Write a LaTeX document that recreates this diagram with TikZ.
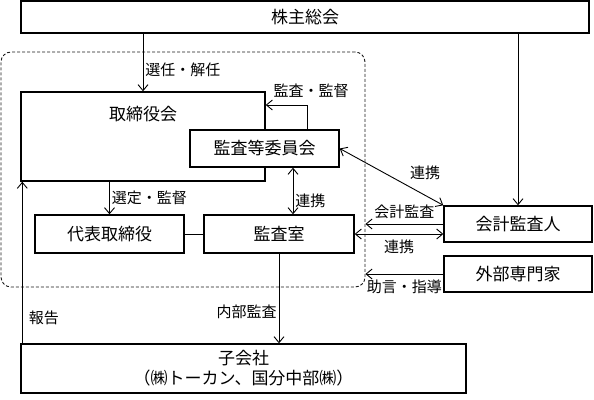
\documentclass[tikz,border=0pt]{standalone}
\usepackage{fontspec}
\newfontfamily\jpfont{Noto Sans CJK JP}
\usetikzlibrary{positioning, arrows.meta, calc}

\begin{document}
\begin{tikzpicture}[x=1pt, y=-1pt,
    orgbox/.style={draw, rectangle, line width=1.4pt, inner sep=0pt,
        font=\jpfont\fontsize{17}{20}\selectfont, align=center},
    conn/.style={line width=0.9pt, -{Straight Barb[length=6pt, width=10pt]}},
    twoway/.style={line width=0.9pt, {Straight Barb[length=6pt, width=10pt]}-{Straight Barb[length=6pt, width=10pt]}},
    lbl/.style={font=\jpfont\fontsize{15}{17}\selectfont, inner sep=2pt}]

    \useasboundingbox (0,0) rectangle (594,399);

    % Dashed group around the board
    \node[draw, dashed, dash pattern=on 3pt off 2pt, black!90, line width=0.9pt, rounded corners=10pt,
        minimum width=364pt, minimum height=235pt, inner sep=0pt] (boxGroup) at (183,169.5) {};

    % Boxes
    \node[orgbox, minimum width=568pt, minimum height=32pt] (boxAGM) at (305,17) {株主総会};
    \node[orgbox, minimum width=244pt, minimum height=89pt] (boxBoard) at (143,136.5) {};
    \node at ($(boxBoard.north)+(0,23)$) [lbl, font=\jpfont\fontsize{17}{20}\selectfont] {取締役会};
    \node[orgbox, fill=white, minimum width=149pt, minimum height=37pt] (boxAudit) at (264.5,148.5) {監査等委員会};
    \node[orgbox, minimum width=149pt, minimum height=38pt] (boxCEO) at (109.5,234) {代表取締役};
    \node[orgbox, minimum width=150pt, minimum height=38pt] (boxOffice) at (279,234) {監査室};
    \node[orgbox, minimum width=148pt, minimum height=36pt] (boxAcc) at (518,224) {会計監査人};
    \node[orgbox, minimum width=148pt, minimum height=36pt] (boxExpert) at (518,274) {外部専門家};
    \node[orgbox, minimum width=445pt, minimum height=49pt] (boxSub) at (243.5,368.5)
        {子会社\\（㈱トーカン、国分中部㈱）};

    % Helper points
    \coordinate (linkX) at ([xshift=14pt]boxOffice.north);
    \coordinate (reportX) at ([xshift=2pt]boxSub.north west);

    % Connectors from the shareholders
    \draw[conn] (boxAGM.south -| boxBoard.north) -- (boxBoard.north)
        node[lbl, pos=0.63, right] {選任・解任};
    \draw[conn] (boxAGM.south -| boxAcc.north) -- (boxAcc.north);

    % Inside the group
    \draw[conn] ([xshift=42.5pt]boxAudit.north) |- ([yshift=31.5pt]boxBoard.east);
    \node[lbl] (lblSupervise) at (311,91) {監査・監督};
    \draw[conn] (boxBoard.south -| boxCEO.north) -- (boxCEO.north)
        node[lbl, midway, right] {選定・監督};
    \draw[twoway] (linkX |- boxAudit.south) -- (linkX)
        node[lbl, pos=0.7, right] {連携};
    \draw[line width=0.9pt] (boxCEO.east) -- (boxOffice.west);

    % Outside parties
    \draw[twoway] (boxAudit.east) -- (boxAcc.north west);
    \node[lbl] (lblLinkA) at (425,173) {連携};
    \draw[conn] (boxAcc.west) -- (boxAcc.west -| boxGroup.east)
        node[lbl, midway, above=3pt] {会計監査};
    \draw[twoway] (boxOffice.east) -- (boxOffice.east -| boxAcc.west)
        node[lbl, midway, below=3pt] {連携};
    \draw[conn] (boxExpert.west) -- (boxExpert.west -| boxGroup.east)
        node[lbl, midway, below=3pt] {助言・指導};

    % Subsidiaries
    \draw[conn] (boxOffice.south) -- (boxOffice.south |- boxSub.north)
        node[lbl, pos=0.65, left] {内部監査};
    \draw[conn] (reportX) -- (reportX |- boxBoard.south)
        node[lbl, pos=0.16, right=4pt] {報告};

\end{tikzpicture}
\end{document}
